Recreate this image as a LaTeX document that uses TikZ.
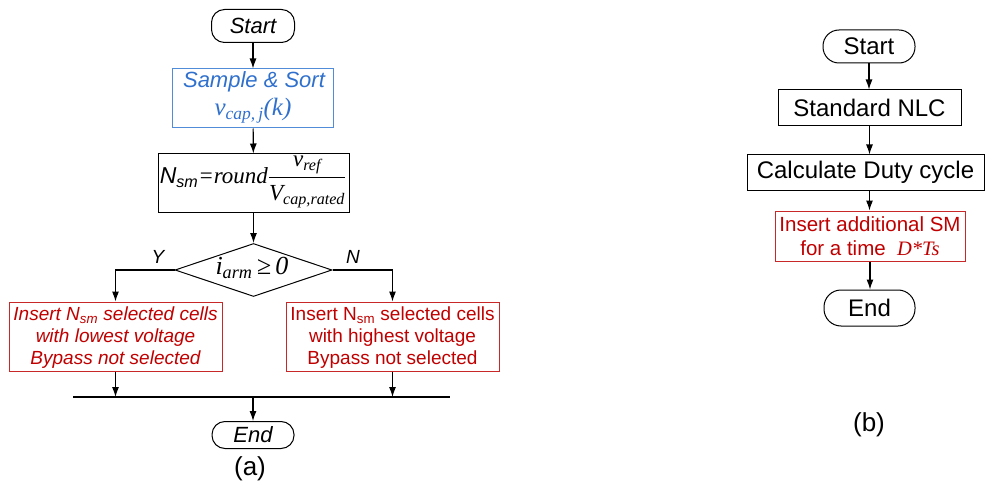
\documentclass[tikz,border=0pt]{standalone}
\usepackage{fontspec}
\setmainfont{Liberation Sans}
\newfontfamily\tms{Liberation Serif}
\usetikzlibrary{shapes.geometric,arrows.meta,calc}
\definecolor{bluet}{RGB}{47,112,205}
\definecolor{blueb}{RGB}{80,140,215}
\definecolor{redt}{RGB}{192,0,0}
\definecolor{redb}{RGB}{200,40,40}
\tikzset{
  box/.style={draw,line width=1pt,inner sep=0pt,align=center},
  term/.style={draw,line width=1pt,rounded corners=13pt,inner sep=0pt},
  arr/.style={line width=1.1pt,-{Latex[length=10pt,width=7pt]}},
  ln/.style={line width=1.1pt},
  fa/.style={font=\fontsize{22}{26}\selectfont\itshape},
  fb/.style={font=\fontsize{24}{28}\selectfont},
}
\begin{document}
\begin{tikzpicture}[x=1pt,y=-1pt]
\useasboundingbox (0,0) rectangle (988,484);
% ---- (a)
\node[term,fa,minimum width=83pt,minimum height=33pt] (sA) at (253,26) {Start};
\node[box,draw=blueb,text=bluet,minimum width=161pt,minimum height=59pt,fa] (samp) at (253,98.5) {};
\node[text=bluet,fa] (sampt) at (254,82) {Sample \& Sort};
\node[text=bluet,font=\fontsize{25}{28}\selectfont\tms\itshape] (sampv) at (253,111) {v\textsubscript{cap,\,j}(k)};
\node[box,minimum width=191pt,minimum height=58pt] (nsm) at (253.5,183) {};
\node[font=\fontsize{23}{27}\selectfont] (nsmt) at (253,182)
  {{\itshape N\textsubscript{sm}}{\tms\itshape =round}$\displaystyle\frac{\mbox{\tms\itshape v\textsubscript{ref}}}{\mbox{\tms\itshape V\textsubscript{cap,rated}}}$};
\node[draw,line width=1pt,shape=diamond,inner sep=0pt,minimum width=157pt,minimum height=53pt] (dia) at (253.5,270) {};
\node[font=\fontsize{26}{28}\selectfont\tms\itshape] (diat) at (252,268) {i\textsubscript{arm}\,≥\,0};
\node[font=\fontsize{19}{22}\selectfont\itshape] (ly) at (158,257) {Y};
\node[font=\fontsize{19}{22}\selectfont\itshape] (ln) at (353,257) {N};
\node[box,draw=redb,minimum width=213pt,minimum height=69pt] (bL) at (115.5,336.5) {};
\node[text=redt,font=\fontsize{19}{22}\selectfont\itshape,align=center] (bLt) at (115.5,338)
  {Insert N\textsubscript{sm} selected cells\\with lowest voltage\\Bypass not selected};
\node[box,draw=redb,minimum width=213pt,minimum height=69pt] (bR) at (392.5,336.5) {};
\node[text=redt,font=\fontsize{19}{22}\selectfont,align=center] (bRt) at (392.5,338)
  {Insert N\textsubscript{sm} selected cells\\with highest voltage\\Bypass not selected};
\coordinate (h1) at (73,397);
\coordinate (h2) at (450,397);
\node[term,fa,minimum width=82pt,minimum height=27pt] (eA) at (253,435) {End};
\node[font=\fontsize{26}{30}\selectfont] (la) at (250,469) {(a)};
\draw[arr] (sA) -- (samp);
\draw[arr] (samp) -- (nsm);
\draw[arr] (nsm) -- (dia);
\draw[arr] (dia.west) -| (bL.north);
\draw[arr] (dia.east) -| (bR.north);
\draw[ln] (h1) -- (h2);
\draw[arr] (bL.south) -- (bL.south |- h1);
\draw[arr] (bR.south) -- (bR.south |- h1);
\draw[arr] (eA.north |- h1) -- (eA.north);
% ---- (b)
\node[term,fb,minimum width=92pt,minimum height=33pt,rounded corners=16pt] (sB) at (869,46.5) {Start};
\node[box,fb,minimum width=183pt,minimum height=36pt] (nlc) at (869.5,108) {Standard NLC};
\node[box,fb,minimum width=237pt,minimum height=35pt] (duty) at (865.5,172.5) {Calculate Duty cycle};
\node[box,draw=redb,text=redt,minimum width=190pt,minimum height=50pt,font=\fontsize{20.5}{24}\selectfont] (ins) at (870,236)
  {Insert additional SM\\for a time \ {\tms\itshape D*Ts}};
\node[term,fb,minimum width=91pt,minimum height=36pt,rounded corners=17pt] (eB) at (869.5,308) {End};
\node[font=\fontsize{26}{30}\selectfont] (lb) at (869,425) {(b)};
\draw[arr] (sB) -- (sB |- nlc.north);
\draw[arr] (nlc) -- (nlc |- duty.north);
\draw[arr] (duty.south -| nlc) -- (nlc |- ins.north);
\draw[arr] (ins) -- (ins |- eB.north);
\end{tikzpicture}
\end{document}
